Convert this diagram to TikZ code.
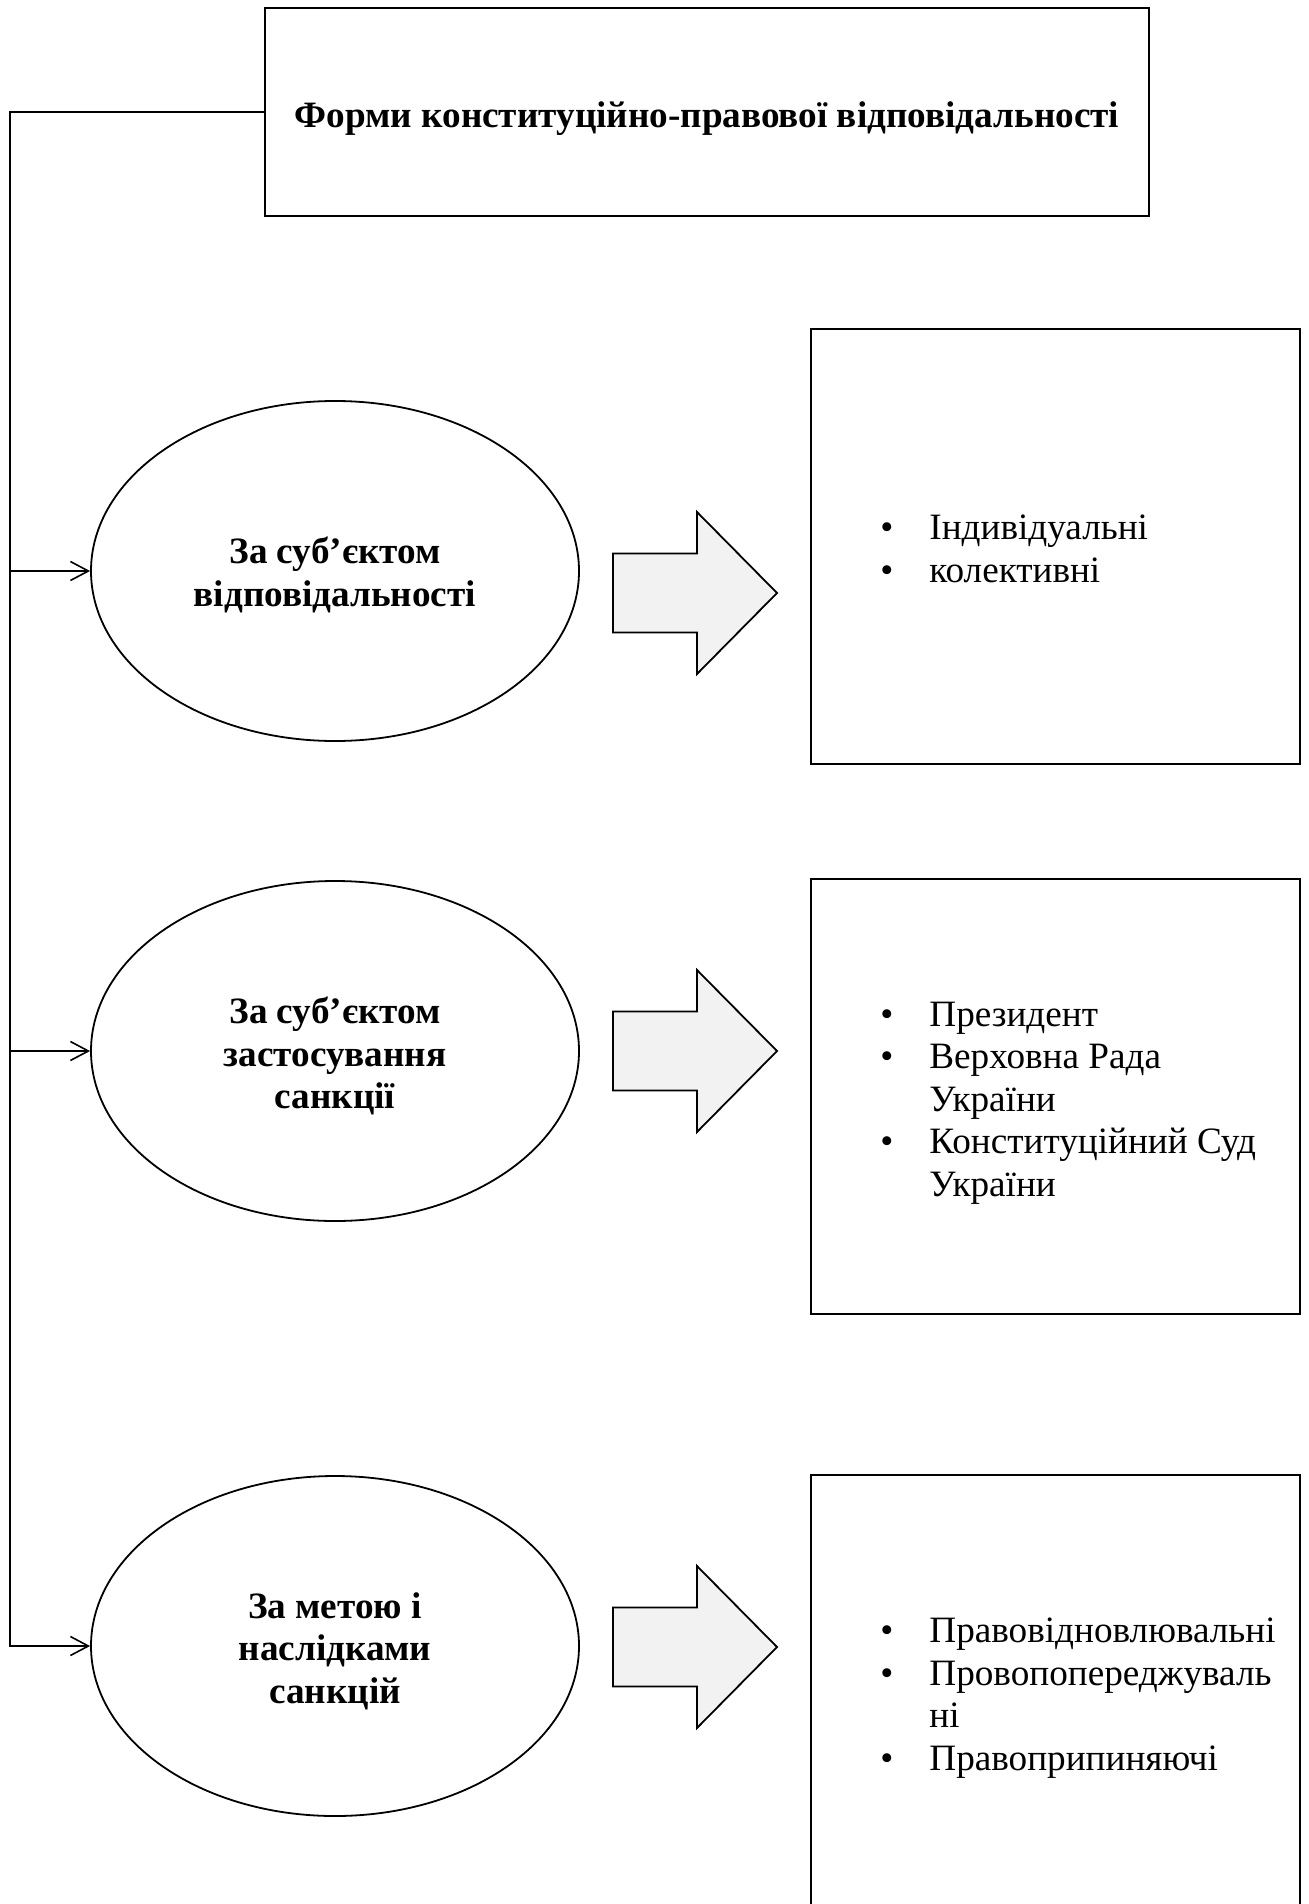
\documentclass[tikz,border=0pt]{standalone}
\usepackage{fontspec}
\setmainfont{Liberation Serif}
\usetikzlibrary{arrows.meta,shapes.geometric}
\definecolor{arrowgray}{HTML}{F2F2F2}
\newcommand\bul{\makebox[24.5pt][l]{•}}
\newcommand\indt{\hspace*{24.5pt}}
\begin{document}
\begin{tikzpicture}[x=0.5pt,y=-0.5pt,
  boxst/.style={draw,line width=1.15pt,rectangle,inner sep=0pt},
  ellst/.style={draw,ellipse,line width=0.9pt,minimum width=244pt,minimum height=170pt,inner sep=0pt},
  elltext/.style={inner sep=0pt,align=center,font=\bfseries\fontsize{18.6}{21.25}\selectfont},
  conn/.style={line width=0.8pt},
  arr/.style={conn,-{Straight Barb[length=9pt,width=9.5pt]}},
  blockarrow/.style={draw,line width=0.9pt,fill=arrowgray},
  listst/.style={anchor=base west,inner sep=0pt,align=left,font=\fontsize{18.6}{21.25}\selectfont},
  blockarr/.pic={\draw[blockarrow] (-82,-39.5) -- (2,-39.5) -- (2,-81) -- (82,0) -- (2,81) -- (2,39.5) -- (-82,39.5) -- cycle;}
]
\useasboundingbox (0,0) rectangle (1308,1904);
\clip (0,0) rectangle (1308,1904);

\node[boxst,minimum width=442pt,minimum height=104pt,text height=16pt,text depth=0pt,font=\bfseries\fontsize{18.6}{21.25}\selectfont] (title) at (707,112) {Форми конституційно-правової відповідальності};

\node[ellst] (e1) at (335,571) {};
\node[ellst] (e2) at (335,1051) {};
\node[ellst] (e3) at (335,1646) {};
\node[elltext] (e1t) at (335,575) {За суб’єктом\\відповідальності};
\node[elltext] (e2t) at (335,1056) {За суб’єктом\\застосування\\санкції};
\node[elltext] (e3t) at (335,1651) {За метою і\\наслідками\\санкцій};

\pic at (695,593) {blockarr};
\pic at (695,1051) {blockarr};
\pic at (695,1647) {blockarr};

\node[boxst,minimum width=244.5pt,minimum height=217.5pt] (b1) at (1055.5,546.5) {};
\node[boxst,minimum width=244.5pt,minimum height=217.5pt] (b2) at (1055.5,1096.5) {};
\node[boxst,minimum width=244.5pt,minimum height=219pt] (b3) at (1055.5,1694) {};

\node[listst] (t1) at (880,582) {\bul Індивідуальні\\\bul колективні};
\node[listst] (t2) at (880,1196) {\bul Президент\\\bul Верховна Рада\\\indt України\\\bul Конституційний Суд\\\indt України};
\node[listst] (t3) at (880,1770) {\bul Правовідновлювальні\\\bul Провопопереджуваль\\\indt ні\\\bul Правоприпиняючі};

\coordinate (L) at (10,0);
\draw[arr] (title.west) -| (e3.west -| L) -- (e3.west);
\draw[arr] (e1.west -| L) -- (e1.west);
\draw[arr] (e2.west -| L) -- (e2.west);
\end{tikzpicture}
\end{document}
